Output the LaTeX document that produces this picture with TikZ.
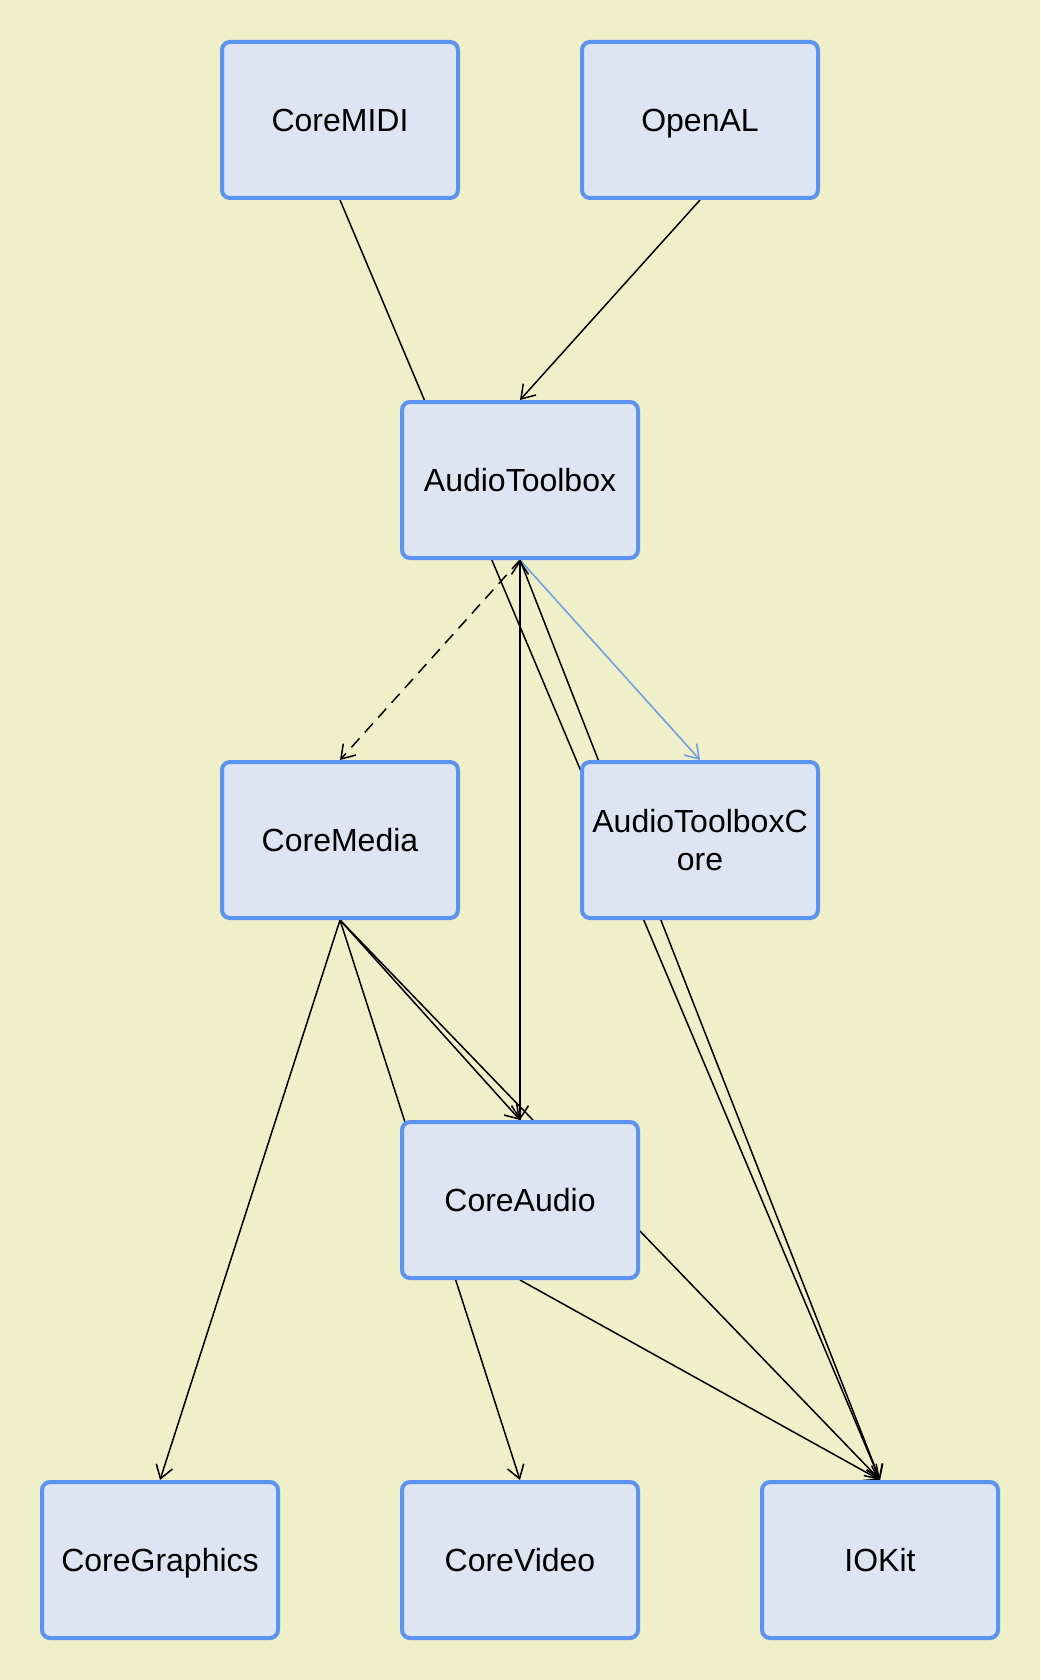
\documentclass[tikz,border=0pt]{standalone}
\usepackage{fontspec}
\setmainfont{Liberation Sans}
\usetikzlibrary{arrows.meta}
\definecolor{bgyellow}{HTML}{EFEFC9}
\definecolor{boxfill}{HTML}{DDE4F2}
\definecolor{boxline}{HTML}{5B93EE}
\definecolor{edgeblue}{HTML}{6C9DE3}
\pgfdeclarelayer{bg}
\pgfsetlayers{bg,main}
\begin{document}
\begin{tikzpicture}[x=0.5pt,y=-0.5pt,
                >={Straight Barb[length=6.5pt,width=8.5pt]},
                modbox/.style={draw=boxline,fill=boxfill,line width=2pt,rounded corners=4pt,
                    minimum width=118pt,minimum height=78pt,align=center,
                    font=\fontsize{16}{19}\selectfont,text height=11.5pt,text depth=0pt},
                dep/.style={->,line width=0.75pt}]
                \node[modbox] (coremidi) at (340,120) {CoreMIDI};
                \node[modbox] (openal) at (700,120) {OpenAL};
                \node[modbox] (audiotoolbox) at (520,480) {AudioToolbox};
                \node[modbox] (coremedia) at (340,840) {CoreMedia};
                \node[modbox,text height=,text depth=] (atbcore) at (700,840) {AudioToolboxC\\ore};
                \node[modbox] (coreaudio) at (520,1200) {CoreAudio};
                \node[modbox] (coregraphics) at (160,1560) {CoreGraphics};
                \node[modbox] (corevideo) at (520,1560) {CoreVideo};
                \node[modbox] (iokit) at (880,1560) {IOKit};

                \begin{pgfonlayer}{bg}
                \fill[bgyellow] (0,0) rectangle (1040,1680);
                \draw[dep] (coremidi.south) -- (iokit.north);
                \draw[dep] (openal.south) -- (audiotoolbox.north);
                \draw[dep,dashed,dash pattern=on 6pt off 4pt] (audiotoolbox.south) -- (coremedia.north);
                \draw[dep,edgeblue] (audiotoolbox.south) -- (atbcore.north);
                \draw[dep] (audiotoolbox.south) -- (coreaudio.north);
                \draw[dep] (coreaudio.north) -- (audiotoolbox.south);
                \draw[dep] (audiotoolbox.south) -- (iokit.north);
                \draw[dep] (coremedia.south) -- (coregraphics.north);
                \draw[dep] (coremedia.south) -- (coreaudio.north);
                \draw[dep] (coremedia.south) -- (corevideo.north);
                \draw[dep] (coremedia.south) -- (iokit.north);
                \draw[dep] (coreaudio.south) -- (iokit.north);
                \end{pgfonlayer}
            \end{tikzpicture}
\end{document}
